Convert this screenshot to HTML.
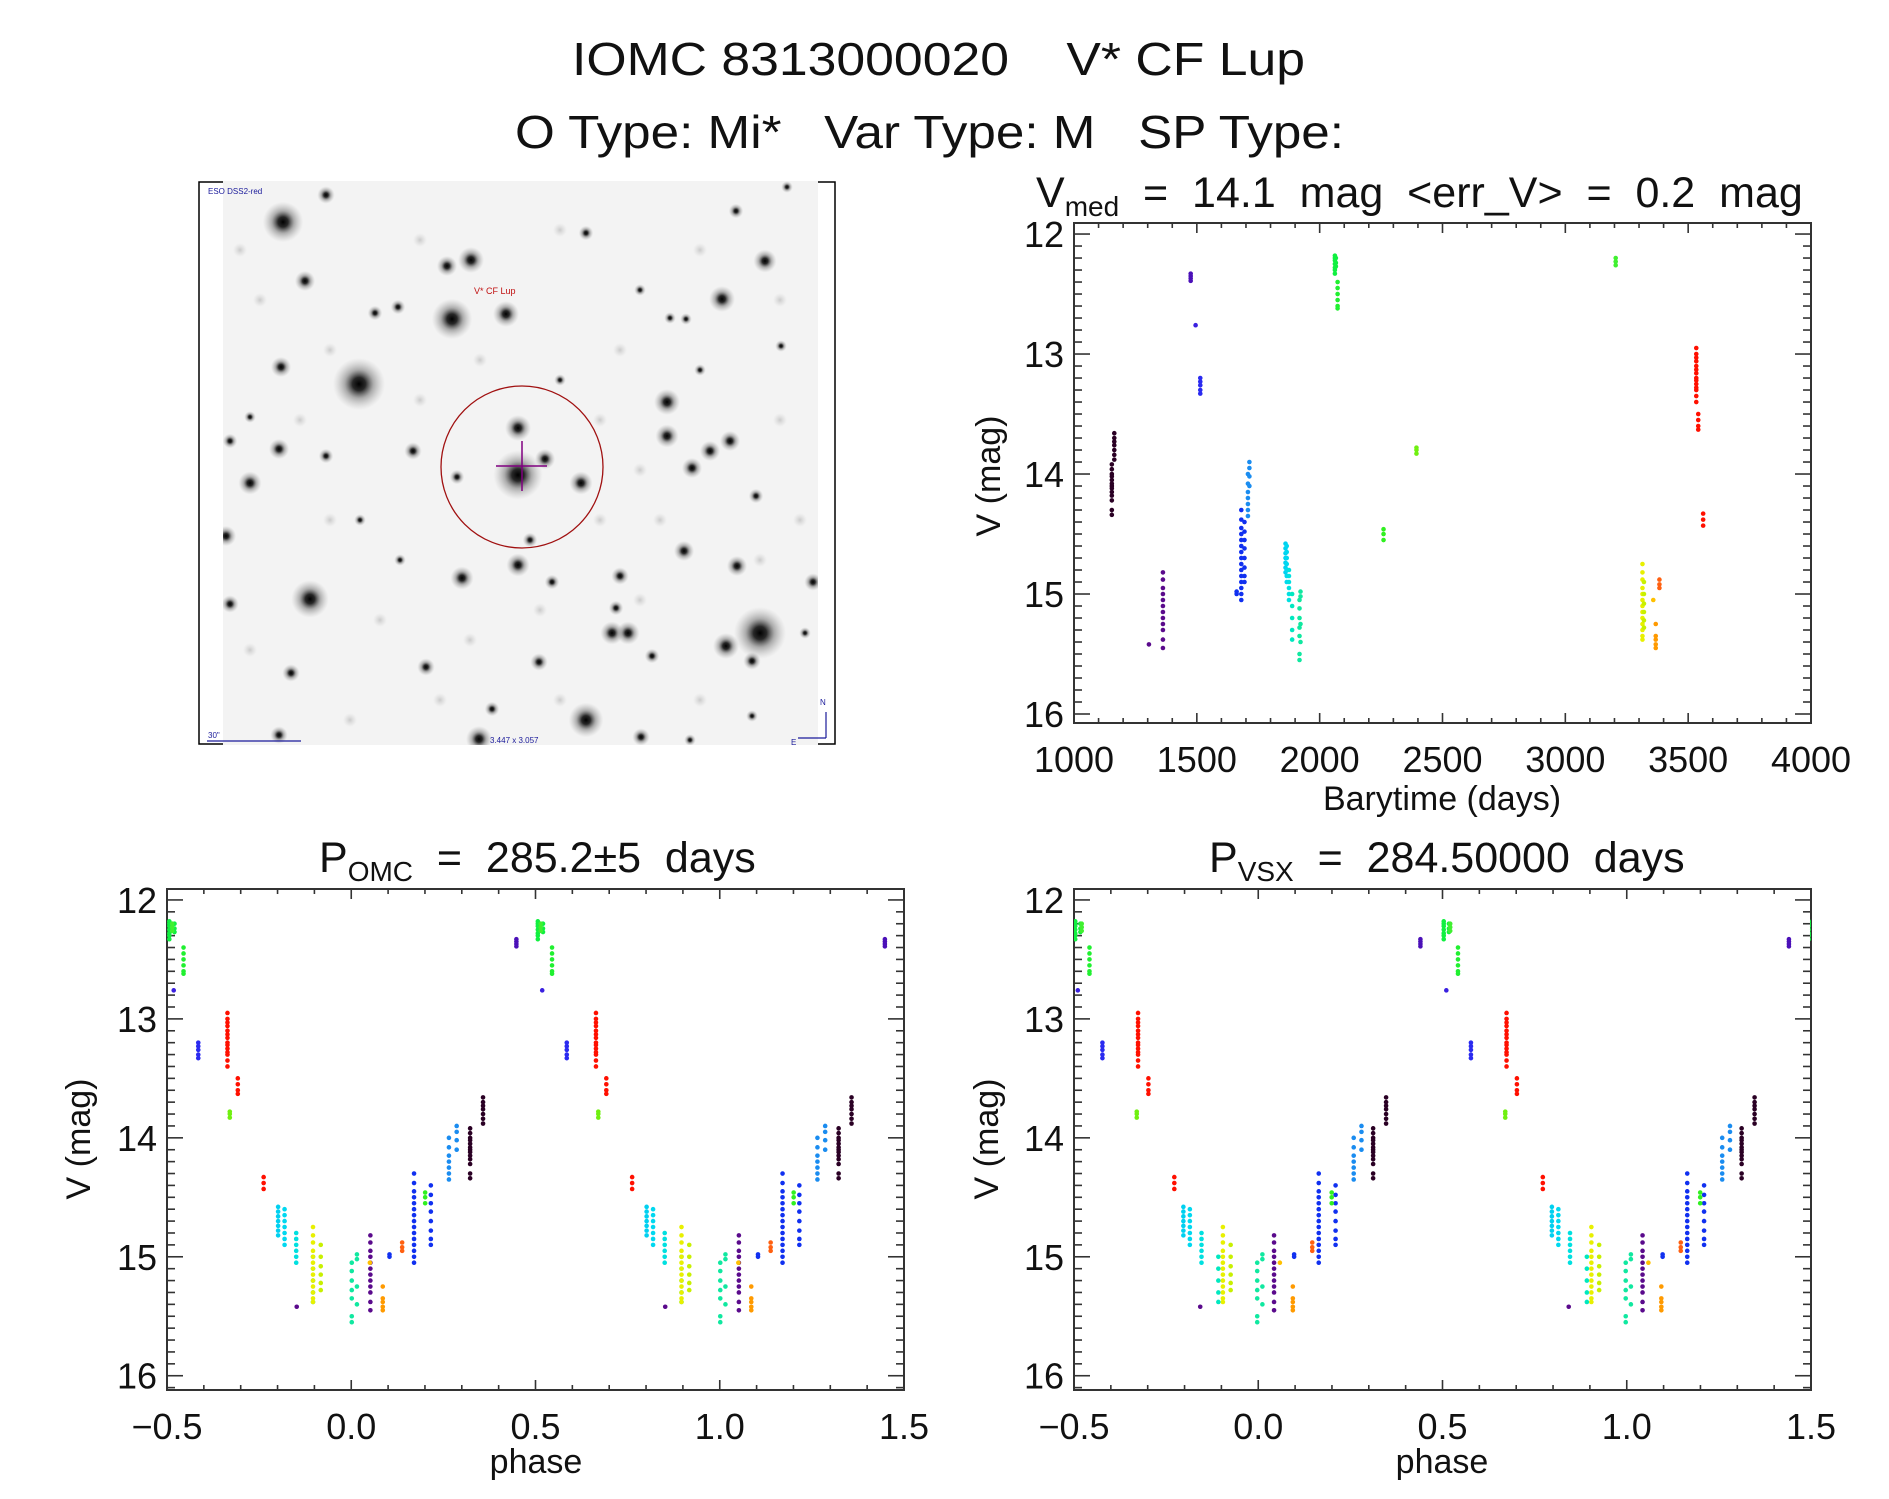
<!DOCTYPE html>
<html><head><meta charset="utf-8"><style>
html,body{margin:0;padding:0;background:#fff;}
svg text{font-family:"Liberation Sans",sans-serif;fill:#111;}
</style></head><body>
<svg id="page" xmlns="http://www.w3.org/2000/svg" width="1889" height="1494" viewBox="0 0 1889 1494">
<rect width="1889" height="1494" fill="#fff"/>
<text x="572" y="75" font-size="46" textLength="733" lengthAdjust="spacingAndGlyphs" xml:space="preserve">IOMC 8313000020    V* CF Lup</text>
<text x="515" y="148" font-size="46" textLength="829" lengthAdjust="spacingAndGlyphs" xml:space="preserve">O Type: Mi*   Var Type: M   SP Type:</text>

<g id="skyimg">
<defs>
<radialGradient id="star"><stop offset="0" stop-color="#000" stop-opacity="1"/><stop offset="0.25" stop-color="#111" stop-opacity="0.9"/><stop offset="0.55" stop-color="#555" stop-opacity="0.45"/><stop offset="1" stop-color="#999" stop-opacity="0"/></radialGradient>
<radialGradient id="faint"><stop offset="0" stop-color="#999" stop-opacity="0.45"/><stop offset="1" stop-color="#bbb" stop-opacity="0"/></radialGradient>
<clipPath id="skyclip"><rect x="223" y="181" width="595" height="564"/></clipPath>
</defs>
<rect x="199" y="182" width="636" height="562" fill="none" stroke="#000" stroke-width="1.5"/>
<rect x="223" y="181" width="595" height="564" fill="#f3f3f3"/>
<g id="stars" clip-path="url(#skyclip)"></g>
<circle cx="522" cy="467" r="81" fill="none" stroke="#a01010" stroke-width="1.3"/>
<line x1="496" y1="466" x2="547" y2="466" stroke="#800080" stroke-width="1.5"/>
<line x1="522" y1="441" x2="522" y2="491" stroke="#800080" stroke-width="1.5"/>
<text x="474" y="294" font-size="9" style="fill:#c01010">V* CF Lup</text>
<text x="208" y="194" font-size="8" style="fill:#1a1a9a">ESO DSS2-red</text>
<line x1="207" y1="741" x2="301" y2="741" stroke="#1a1a9a" stroke-width="1.3"/>
<text x="208" y="738" font-size="8" style="fill:#1a1a9a">30"</text>
<text x="490" y="743" font-size="8" style="fill:#1a1a9a">3.447 x 3.057</text>
<line x1="826" y1="712" x2="826" y2="738" stroke="#1a1a9a" stroke-width="1.2"/>
<line x1="798" y1="738" x2="826" y2="738" stroke="#1a1a9a" stroke-width="1.2"/>
<text x="820" y="705" font-size="8" style="fill:#1a1a9a">N</text>
<text x="791" y="745" font-size="8" style="fill:#1a1a9a">E</text>
</g>

<text x="1036" y="207" font-size="43" xml:space="preserve">V<tspan font-size="28" dy="9">med</tspan><tspan dy="-9">  =  14.1  mag  &lt;err_V&gt;  =  0.2  mag</tspan></text>
<g id="p1"></g>
<text x="1442" y="810" font-size="34" text-anchor="middle">Barytime (days)</text>
<text transform="translate(1000,476) rotate(-90)" font-size="34" text-anchor="middle">V (mag)</text>

<text x="319" y="872" font-size="43" xml:space="preserve">P<tspan font-size="28" dy="9">OMC</tspan><tspan dy="-9">  =  285.2±5  days</tspan></text>
<g id="p2"></g>
<text x="536" y="1473" font-size="34" text-anchor="middle">phase</text>
<text transform="translate(90,1139) rotate(-90)" font-size="34" text-anchor="middle">V (mag)</text>

<text x="1209" y="872" font-size="43" xml:space="preserve">P<tspan font-size="28" dy="9">VSX</tspan><tspan dy="-9">  =  284.50000  days</tspan></text>
<g id="p3"></g>
<text x="1442" y="1473" font-size="34" text-anchor="middle">phase</text>
<text transform="translate(998,1139) rotate(-90)" font-size="34" text-anchor="middle">V (mag)</text>
</svg>
<script>
// ---- data ----
const obsTime = [
1154,1154,1154,1154,1154,1154,1154,1154,1154,1154,1154,1154,1154,
1164,1164,1164,1164,1164,1164,1164,
1305,
1362,1362,1362,1362,1362,1362,1362,1362,1362,1362,1362,1362,
1475,1475,1475,1475,
1495,
1514,1514,1514,1514,1514,
1662,1662,
1681,1681,1681,1681,1681,1681,1681,1681,1681,1681,1681,1681,1681,1681,1681,
1694,1694,1694,1694,1694,1694,1694,1694,
1708,1708,1708,1708,1708,1708,1708,
1714,1714,1714,1714,
1861,1861,1861,1861,1861,1861,1861,
1866,1866,1866,1866,1866,1866,1866,
1875,1875,1875,1875,1875,1875,
1888,1888,1888,1888,1888,
1918,1918,1918,1918,1918,1918,1918,
1922,1922,1922,1922,
2062,2062,2062,2062,2062,2062,2062,
2066,2066,2066,
2073,2073,2073,2073,2073,2073,
2260,2260,2260,
2394,2394,2394,
3205,3205,3205,
3314,3314,3314,3314,3314,3314,3314,3314,3314,3314,3314,3314,3314,
3320,3320,3320,3320,3320,3320,
3358,
3368,3368,3368,3368,3368,
3383,3383,3383,
3533,3533,3533,3533,3533,3533,3533,3533,3533,3533,3533,3533,3533,3533,
3541,3541,3541,3541,
3561,3561,3561];
const obsMag = [
13.92,13.96,14.0,14.02,14.05,14.08,14.1,14.12,14.15,14.18,14.22,14.3,14.34,
13.66,13.7,13.73,13.76,13.8,13.84,13.88,
15.42,
14.82,14.88,14.95,15.0,15.05,15.1,15.15,15.2,15.25,15.3,15.38,15.45,
12.33,12.35,12.37,12.39,
12.76,
13.2,13.23,13.26,13.3,13.33,
14.98,15.0,
14.3,14.38,14.45,14.5,14.55,14.6,14.65,14.7,14.75,14.8,14.85,14.9,14.95,15.0,15.05,
14.4,14.48,14.55,14.62,14.7,14.78,14.85,14.9,
14.0,14.08,14.15,14.2,14.25,14.3,14.35,
13.9,13.95,14.02,14.1,
14.58,14.62,14.66,14.7,14.74,14.78,14.82,
14.6,14.65,14.7,14.75,14.8,14.85,14.9,
14.8,14.85,14.9,14.95,15.0,15.05,
15.0,15.1,15.2,15.3,15.38,
15.05,15.12,15.2,15.28,15.35,15.5,15.55,
14.98,15.02,15.25,15.4,
12.18,12.2,12.22,12.25,12.28,12.3,12.33,
12.2,12.24,12.27,
12.4,12.45,12.5,12.55,12.6,12.62,
14.46,14.5,14.55,
13.78,13.8,13.83,
12.2,12.23,12.26,
14.75,14.82,14.88,14.95,15.0,15.05,15.1,15.15,15.2,15.25,15.3,15.35,15.38,
14.9,15.0,15.08,15.15,15.22,15.28,
15.05,
15.25,15.35,15.38,15.42,15.45,
14.88,14.92,14.95,
12.95,13.0,13.03,13.06,13.1,13.13,13.16,13.2,13.22,13.25,13.28,13.3,13.35,13.4,
13.5,13.55,13.6,13.63,
14.33,14.38,14.43];
const groupStart = [0,13,20,21,33,37,38,43,45,60,68,75,79,86,93,99,104,111,115,122,125,131,134,137,140,153,159,160,165,168,182,186];
const groupColor = ['#2a0024','#2a0024','#5a0a8c','#5a0a8c','#4b10b8','#3a20e0','#2a2af0','#1030f0','#1030f0','#1030f0','#1a8cf0','#1a8cf0','#00d0f0','#00d8f0','#00e0e0','#00e8c0','#10e8a0','#10e8a0','#10f040','#10f040','#20f030','#30f020','#70f010','#40f030','#e8f000','#c8f000','#ffc000','#ff9a00','#ff6010','#ff1000','#ff1000','#ff1000'];
const periodOMC = 285.2, epochOMC = 1062;
const periodVSX = 284.5, epochVSX = 1065.3;
const lcXTicks = [1000,1500,2000,2500,3000,3500,4000];
const phXTicks = [-0.5,0.0,0.5,1.0,1.5];
const phXLabels = ['\u22120.5','0.0','0.5','1.0','1.5'];
const magTicks = [12,13,14,15,16];

const NS='http://www.w3.org/2000/svg';
function mk(tag,attrs,parent){const e=document.createElementNS(NS,tag);for(const k in attrs)e.setAttribute(k,attrs[k]);parent.appendChild(e);return e;}
function colorOf(i){let g=0;for(let k=0;k<groupStart.length;k++){if(i>=groupStart[k])g=k;}return groupColor[g];}

// ---- stars ----
const starList=[[283,222,14],[359,384,18],[452,319,14],[471,260,9],[447,266,7],[506,314,9],[518,428,9],[518,475,17],[545,459,7],[581,483,8],[667,402,9],[667,436,8],[722,299,9],[765,261,8],[730,441,7],[710,451,7],[692,468,7],[310,599,13],[760,633,18],[726,646,9],[612,633,8],[628,633,8],[586,720,12],[462,578,8],[518,565,8],[620,576,6],[684,551,7],[737,566,7],[250,483,8],[279,449,7],[281,367,7],[305,281,7],[326,195,6],[226,536,7],[230,604,6],[291,673,6],[426,667,6],[539,662,6],[479,739,9],[641,737,6],[279,735,6],[413,451,6],[326,456,5],[756,496,5],[813,582,6],[230,441,5],[250,417,4],[652,656,5],[616,608,5],[552,582,5],[492,709,5],[586,233,5],[736,211,5],[781,346,4],[375,313,5],[398,307,5],[530,540,5],[457,477,5],[686,319,4],[670,318,4],[805,633,4],[787,187,4],[752,661,6],[752,716,4],[690,740,4],[360,520,4],[400,560,4],[640,290,4],[700,370,4],[560,380,4]];
const faintList=[[260,300],[330,350],[420,240],[560,230],[620,350],[700,250],[780,420],[800,520],[640,470],[600,520],[380,620],[440,700],[700,700],[250,650],[330,520],[470,640],[540,610],[760,560],[350,720],[660,520],[300,420],[420,400],[600,420],[480,360],[780,300],[240,250],[560,700],[640,600]];
const sg=document.getElementById('stars');
faintList.forEach(f=>{mk('circle',{cx:f[0],cy:f[1],r:7,fill:'url(#faint)'},sg);});
starList.forEach(s=>{mk('circle',{cx:s[0],cy:s[1],r:s[2]*1.45,fill:'url(#star)'},sg);});

// ---- plot frame/axes ----
function frame(g,x0,y0,x1,y1,xmin,xmax,xMinor,xMajorList,xLabels,ymin,ymax,labelY){
  const X=v=>x0+(v-xmin)/(xmax-xmin)*(x1-x0);
  const Y=v=>y0+(v-ymin)/(ymax-ymin)*(y1-y0);
  const st='#333';
  for(let v=Math.ceil(xmin/xMinor-1e-6)*xMinor; v<=xmax+1e-9; v+=xMinor){
    const maj=xMajorList.some(m=>Math.abs(m-v)<xMinor/10);
    const L=maj?10:5;
    mk('line',{x1:X(v),y1:y1,x2:X(v),y2:y1-L,stroke:st,'stroke-width':1.6},g);
    mk('line',{x1:X(v),y1:y0,x2:X(v),y2:y0+L,stroke:st,'stroke-width':1.6},g);
  }
  for(let k=Math.ceil(ymin*10); k<=Math.floor(ymax*10); k++){
    const v=k/10; const maj=(k%10===0); const L=maj?16:8;
    mk('line',{x1:x0,y1:Y(v),x2:x0+L,y2:Y(v),stroke:st,'stroke-width':1.6},g);
    mk('line',{x1:x1,y1:Y(v),x2:x1-L,y2:Y(v),stroke:st,'stroke-width':1.6},g);
  }
  const r=mk('rect',{x:x0,y:y0,width:x1-x0,height:y1-y0,fill:'none',stroke:st,'stroke-width':2},g);
  
  
  xMajorList.forEach((v,i)=>{
    const t=mk('text',{x:X(v),y:labelY,'font-size':36,'text-anchor':'middle'},g);
    t.textContent=xLabels[i];
    
    
  });
  magTicks.forEach(v=>{
    const t=mk('text',{x:x0-10,y:Y(v)+13,'font-size':36,'text-anchor':'end'},g);
    t.textContent=String(v);
    
    
  });
  return {X,Y};
}
function clipFor(id,x0,y0,x1,y1,g){const d=mk('defs',{},g);const c=mk('clipPath',{id:id},d);mk('rect',{x:x0,y:y0,width:x1-x0,height:y1-y0},c);}

// light curve
const g1=document.getElementById('p1');
const a1=frame(g1,1074,223,1811,723,1000,4000,100,lcXTicks,lcXTicks.map(String),11.908,16.075,772);
const d1=mk('g',{},g1);
for(let i=0;i<obsTime.length;i++){
  const c=mk('circle',{cx:a1.X(obsTime[i]),cy:a1.Y(obsMag[i]),r:2.3,fill:colorOf(i)},d1);
  
  
}

function phasePlot(id,x0,period,epoch,clipId){
  const g=document.getElementById(id);
  const a=frame(g,x0,889,x0+737,1390,-0.5,1.5,0.1,phXTicks,phXLabels,11.908,16.12,1439);
  clipFor(clipId,x0,889,x0+737,1390,g);
  const d=mk('g',{'clip-path':'url(#'+clipId+')'},g);
  for(let i=0;i<obsTime.length;i++){
    let ph=((obsTime[i]-epoch)/period)%1; if(ph<0)ph+=1;
    [ph-1,ph,ph+1].forEach(p=>{
      if(p<-0.52||p>1.52)return;
      const c=mk('circle',{cx:a.X(p),cy:a.Y(obsMag[i]),r:2.3,fill:colorOf(i)},d);
      
      
    });
  }
}
phasePlot('p2',167,periodOMC,epochOMC,'c2');
phasePlot('p3',1074,periodVSX,epochVSX,'c3');
</script>
</body></html>
